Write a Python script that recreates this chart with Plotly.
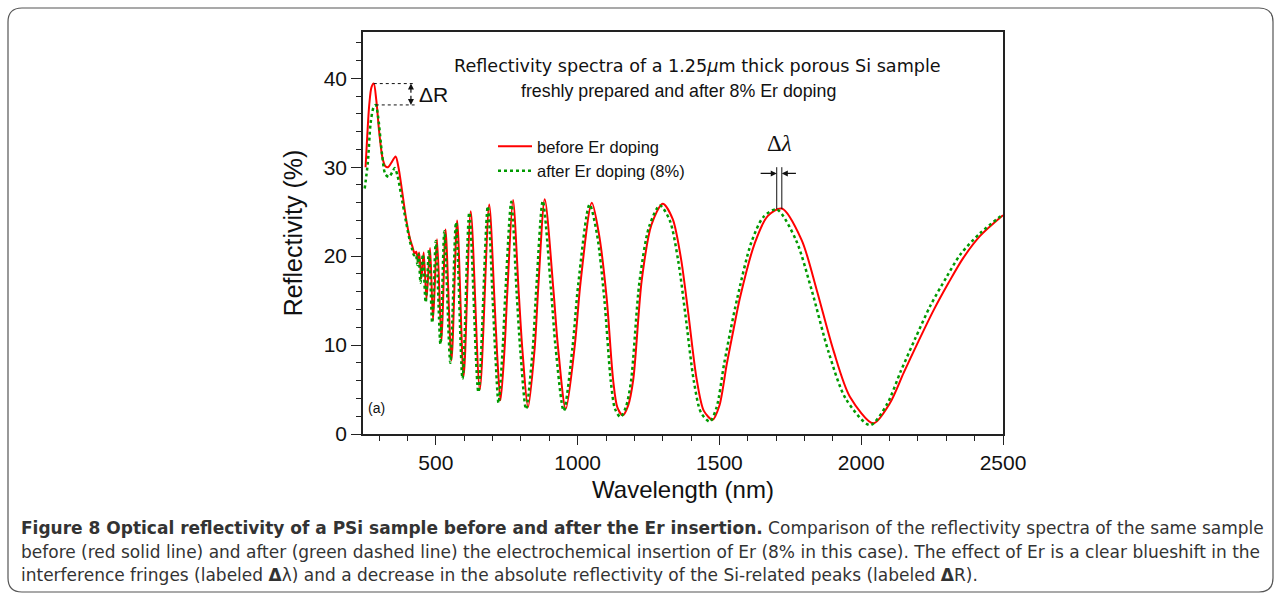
import plotly.graph_objects as go

# ---------------- data ----------------
red_wl = [252, 258, 265, 273, 281, 290, 300, 312, 322, 331, 345, 358, 368, 380, 396, 410,
          418, 425, 431, 437, 441, 449, 457, 467, 479.5, 490, 504, 520, 534, 555, 575, 598,
          623, 655, 688, 706, 716, 728, 742, 752, 772, 792, 805, 825, 848, 862, 884, 915,
          930, 958, 990, 1010, 1050, 1075, 1102, 1125, 1140, 1159, 1178, 1196, 1226, 1260,
          1300, 1335, 1365, 1390, 1420, 1445, 1476, 1500, 1526, 1550, 1573, 1625, 1670, 1720,
          1790, 1843, 1902, 1960, 2043, 2100, 2150, 2200, 2255, 2308, 2360, 2420, 2500]
red_R = [30.0, 33.5, 37.0, 39.0, 39.4, 37.5, 34.0, 31.0, 30.1, 30.0, 30.6, 31.2, 30.0, 27.5, 24.0, 21.8,
         21.0, 20.3, 20.5, 19.3, 20.4, 17.5, 20.4, 15.2, 20.9, 12.8, 21.9, 10.4, 23.0, 8.3, 24.0, 6.5,
         25.05, 5.0, 25.8, 15.5, 9.0, 3.8, 9.5, 16.0, 26.3, 16.0, 9.5, 3.0, 9.5, 17.0, 26.4, 16.0,
         10.0, 2.8, 10.0, 17.0, 26.0, 22.5, 15.4, 6.1, 3.0, 2.1, 3.2, 6.1, 17.3, 23.5,
         25.9, 24.2, 19.6, 13.6, 6.1, 2.6, 1.6, 3.2, 7.9, 11.8, 15.4, 21.5, 24.5, 25.35,
         21.8, 16.2, 9.4, 4.2, 1.2, 3.4, 6.9, 10.3, 13.9, 17.0, 19.8, 22.3, 24.6]

green_wl = [249, 260, 270, 280, 288, 297, 310, 322, 335, 347, 355, 365, 378, 395, 409,
            416, 423, 429, 435, 439, 446, 454, 464, 476, 487, 500, 516, 530, 551, 571, 594,
            618, 650, 683, 700, 710, 721, 735, 745, 766, 785, 798, 818, 841, 855, 877, 907,
            922, 951, 982, 1002, 1042, 1068, 1094, 1117, 1132, 1151, 1170, 1188, 1218, 1252,
            1290, 1325, 1355, 1380, 1410, 1435, 1466, 1490, 1516, 1540, 1563, 1612, 1655, 1702,
            1770, 1825, 1885, 1945, 2031, 2090, 2140, 2190, 2245, 2300, 2350, 2420, 2500]
green_R = [27.6, 30.5, 35.0, 36.7, 37.0, 35.5, 31.5, 29.2, 28.9, 29.5, 29.9, 29.0, 26.8, 23.8, 21.6,
           20.8, 20.1, 20.2, 19.0, 20.2, 17.0, 20.2, 14.8, 20.7, 12.5, 21.7, 10.1, 22.8, 8.0, 23.8, 6.2,
           24.9, 4.7, 25.6, 15.3, 8.8, 3.5, 9.3, 15.8, 26.1, 15.8, 9.3, 2.8, 9.3, 16.8, 26.2, 15.8,
           9.8, 2.6, 9.8, 16.8, 25.8, 22.5, 15.2, 5.9, 2.8, 1.9, 3.0, 5.9, 17.1, 23.3,
           25.7, 24.0, 19.4, 13.4, 5.9, 2.4, 1.4, 3.0, 7.8, 11.8, 15.3, 21.5, 24.4, 25.25,
           21.8, 16.2, 9.2, 4.0, 1.0, 3.3, 7.1, 10.7, 14.5, 17.6, 20.2, 22.6, 24.7]

series_names = ["before Er doping", "after Er doping (8%)"]
x_ticks = [500, 1000, 1500, 2000, 2500]
y_ticks = [0, 10, 20, 30, 40]

caption_lines = [
    "<b>Figure 8 Optical reflectivity of a PSi sample before and after the Er insertion.</b> "
    "Comparison of the reflectivity spectra of the same sample",
    "before (red solid line) and after (green dashed line) the electrochemical insertion of Er "
    "(8% in this case). The effect of Er is a clear blueshift in the",
    "interference fringes (labeled <b>Δ</b>λ) and a decrease in the absolute reflectivity of the "
    "Si-related peaks (labeled <b>Δ</b>R).",
]

# ---------------- layout geometry ----------------
W, H = 1281, 600
PL, PR, PT, PB = 363, 1003, 32, 434   # plot area in pixels


def px(x):
    return (x - PL) / (PR - PL)


def py(y):
    return (PB - y) / (PB - PT)


fig = go.Figure()
fig.add_trace(go.Scatter(x=red_wl, y=red_R, name=series_names[0], mode="lines",
                         line=dict(color="#ff0000", width=2, shape="spline", smoothing=0.8)))
fig.add_trace(go.Scatter(x=green_wl, y=green_R, name=series_names[1], mode="lines",
                         line=dict(color="#009a00", width=2.5, dash="dot", shape="spline",
                                   smoothing=0.8)))

axis_font = dict(family="Liberation Sans, Arial, sans-serif", size=21, color="#111")
fig.update_xaxes(range=[243, 2500], tickvals=x_ticks, ticks="outside", ticklen=9,
                 tickcolor="#222", showline=True, linecolor="#222", linewidth=1.5,
                 mirror=True, showgrid=False, zeroline=False, tickfont=axis_font,
                 minor=dict(dtick=100, tick0=0, ticks="outside", ticklen=5, tickcolor="#222"),
                 title=dict(text="Wavelength (nm)", font=dict(family="Liberation Sans, Arial",
                                                              size=24, color="#111"), standoff=8))
fig.update_yaxes(range=[0, 45.2], tickvals=y_ticks, ticks="outside", ticklen=10,
                 tickcolor="#222", showline=True, linecolor="#222", linewidth=1.5,
                 mirror=True, showgrid=False, zeroline=False, tickfont=axis_font,
                 minor=dict(dtick=2, tick0=0, ticks="outside", ticklen=5, tickcolor="#222"),
                 title=dict(text="Reflectivity (%)", font=dict(family="Liberation Sans, Arial",
                                                               size=25, color="#111"), standoff=14))

# rounded outer border
x0, y0, x1, y1, r = 8, 8, 1273, 592, 14
path = (f"M {px(x0 + r)} {py(y0)} L {px(x1 - r)} {py(y0)} Q {px(x1)} {py(y0)} {px(x1)} {py(y0 + r)} "
        f"L {px(x1)} {py(y1 - r)} Q {px(x1)} {py(y1)} {px(x1 - r)} {py(y1)} "
        f"L {px(x0 + r)} {py(y1)} Q {px(x0)} {py(y1)} {px(x0)} {py(y1 - r)} "
        f"L {px(x0)} {py(y0 + r)} Q {px(x0)} {py(y0)} {px(x0 + r)} {py(y0)} Z")
shapes = [dict(type="path", xref="paper", yref="paper", path=path,
               line=dict(color="#555", width=1.2), layer="below")]

# Delta R guide lines (dotted)
peak_red, peak_green = max(red_R), max(green_R)
for val, xs in ((peak_red, 281), (peak_green, 288)):
    shapes.append(dict(type="line", xref="x", yref="y", x0=xs, x1=425, y0=val, y1=val,
                       line=dict(color="#111", width=1, dash="dot")))
# Delta lambda vertical guide lines
for xv in (1702, 1720):
    shapes.append(dict(type="line", xref="x", yref="y", x0=xv, x1=xv, y0=25.3, y1=30.0,
                       line=dict(color="#111", width=1)))

annotations = []
# Delta R arrows
mid = (peak_red + peak_green) / 2
for tgt in (peak_red, peak_green):
    annotations.append(dict(x=412, y=tgt, ax=412, ay=mid, xref="x", yref="y", axref="x",
                            ayref="y", text="", showarrow=True, arrowhead=2, arrowsize=1,
                            arrowwidth=1.2, arrowcolor="#111"))
annotations.append(dict(x=435, y=mid, xref="x", yref="y", text="ΔR", showarrow=False,
                        xanchor="left", font=dict(family="Liberation Sans, Arial", size=21,
                                                  color="#111")))
# Delta lambda arrows
annotations.append(dict(x=1702, y=29.3, ax=1640, ay=29.3, xref="x", yref="y", axref="x",
                        ayref="y", text="", showarrow=True, arrowhead=2, arrowsize=1,
                        arrowwidth=1.2, arrowcolor="#111"))
annotations.append(dict(x=1720, y=29.3, ax=1775, ay=29.3, xref="x", yref="y", axref="x",
                        ayref="y", text="", showarrow=True, arrowhead=2, arrowsize=1,
                        arrowwidth=1.2, arrowcolor="#111"))
annotations.append(dict(x=1711, y=32.7, xref="x", yref="y", text="Δ<i>λ</i>", showarrow=False,
                        font=dict(family="Liberation Serif, Times New Roman, serif", size=23,
                                  color="#111")))
# panel label
annotations.append(dict(x=px(366), y=py(418), xref="paper", yref="paper", text="(a)",
                        showarrow=False, xanchor="left",
                        font=dict(family="Liberation Sans, Arial", size=14, color="#111")))
# inner titles
annotations.append(dict(x=px(697), y=py(54), xref="paper", yref="paper",
                        text="Reflectivity spectra of a 1.25<i>μ</i>m thick porous Si sample",
                        showarrow=False, font=dict(family="DejaVu Sans, Verdana", size=17.6,
                                                   color="#111")))
annotations.append(dict(x=px(678), y=py(79), xref="paper", yref="paper",
                        text="freshly prepared and after 8% Er doping", showarrow=False,
                        font=dict(family="Liberation Sans, Arial", size=17.8, color="#111")))
# caption
for line, yy in zip(caption_lines, (528, 552, 575)):
    annotations.append(dict(x=px(20), y=py(yy), xref="paper", yref="paper", text=line,
                            showarrow=False, xanchor="left", yanchor="middle", borderpad=0,
                            font=dict(family="DejaVu Sans, sans-serif", size=17,
                                      color="#333")))

fig.update_layout(
    width=W, height=H, autosize=False,
    margin=dict(l=PL, r=W - PR, t=PT, b=H - PB),
    paper_bgcolor="white", plot_bgcolor="white",
    shapes=shapes, annotations=annotations,
    legend=dict(x=px(493), y=py(129), xanchor="left", yanchor="top",
                bgcolor="rgba(0,0,0,0)", font=dict(family="Liberation Sans, Arial", size=16.5,
                                                   color="#111"),
                tracegroupgap=0, itemwidth=34),
    showlegend=True,
)

fig.write_html("out.html", config={"displayModeBar": False},
               post_script="document.body.style.margin='0px';")
